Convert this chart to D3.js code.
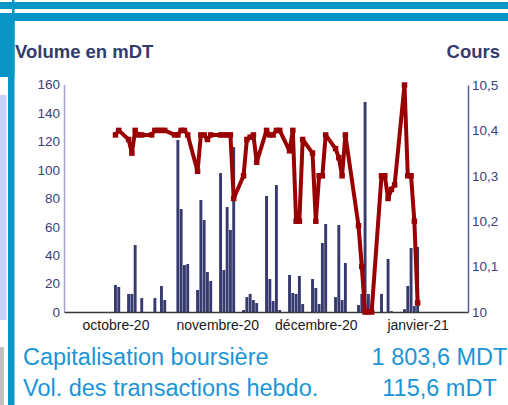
<!DOCTYPE html>
<html>
<head>
<meta charset="utf-8">
<script src="https://cdn.jsdelivr.net/npm/d3@7"></script>
<style>
body { margin: 0; background: #fff; }
svg { display: block; font-family: "Liberation Sans", Arial, sans-serif; }
</style>
</head>
<body>
<svg id="chart" width="508" height="405"></svg>
<script>

// trading days
var dates = ['2020-10-15','2020-10-16','2020-10-19','2020-10-20','2020-10-21','2020-10-22','2020-10-23',
  '2020-10-26','2020-10-27','2020-10-28','2020-10-29','2020-10-30',
  '2020-11-02','2020-11-03','2020-11-04','2020-11-05','2020-11-06',
  '2020-11-09','2020-11-10','2020-11-11','2020-11-12','2020-11-13',
  '2020-11-16','2020-11-17','2020-11-18','2020-11-19','2020-11-20',
  '2020-11-23','2020-11-24','2020-11-25','2020-11-26','2020-11-27',
  '2020-11-30','2020-12-01','2020-12-02','2020-12-03','2020-12-04',
  '2020-12-07','2020-12-08','2020-12-09','2020-12-10','2020-12-11',
  '2020-12-14','2020-12-15','2020-12-16','2020-12-17','2020-12-18',
  '2020-12-21','2020-12-22','2020-12-23','2020-12-24',
  '2020-12-28','2020-12-29','2020-12-30','2020-12-31','2021-01-01',
  '2021-01-04','2021-01-05','2021-01-06','2021-01-07','2021-01-08',
  '2021-01-11','2021-01-12','2021-01-13','2021-01-14','2021-01-15'];

// volume en mDT
var volumes = [19.0, 17.6, 12.7, 12.7, 47.1, 0, 9.8,
  0, 9.8, 0, 18.3, 8.4,
  0, 121, 72.4, 33, 33.8,
  15.5, 78.8, 64.7, 28.1, 21.8,
  97.7, 29.5, 73.8, 57.7, 116,
  1.4, 10.5, 12.7, 8.4, 6.3,
  81.6, 23.2, 7.7, 89.3, 1.4,
  26, 13.4, 12.7, 25.3, 5.6,
  23.2, 16.9, 5.6, 48.5, 61.9,
  10.5, 61.2, 8.4, 34.5,
  4.9, 12.7, 147.7, 12.7, 0,
  12.7, 0, 37.3, 0.6, 0,
  2, 18.3, 45, 4.2, 45.7];

// cours
var cours = [10.39, 10.40, 10.38, 10.35, 10.40, 10.39, 10.39,
  10.39, 10.40, 10.40, 10.40, 10.40,
  10.39, 10.39, 10.40, 10.40, 10.39,
  10.31, 10.39, 10.39, 10.38, 10.39,
  10.39, 10.39, 10.39, 10.39, 10.25,
  10.30, 10.38, 10.385, 10.39, 10.33,
  10.40, 10.39, 10.39, 10.40, 10.40,
  10.355, 10.40, 10.20, 10.20, 10.38,
  10.35, 10.20, 10.30, 10.30, 10.39,
  10.36, 10.34, 10.30, 10.39,
  10.19, 10.10, 10.00, 10.00, 10.00,
  10.30, 10.30, 10.25, 10.27, 10.28,
  10.50, 10.30, 10.30, 10.20, 10.02];

var volTicks = [0, 20, 40, 60, 80, 100, 120, 140, 160];
var coursTicks = [10, 10.1, 10.2, 10.3, 10.4, 10.5];
var coursLabels = ['10', '10,1', '10,2', '10,3', '10,4', '10,5'];
var monthDates = ['2020-10-15', '2020-11-15', '2020-12-15', '2021-01-15'];
var monthLabels = ['octobre-20', 'novembre-20', 'décembre-20', 'janvier-21'];

var blue = '#0995c6', navy = '#363a6e', red = '#990000', textBlue = '#1b95d6';

var margin = { top: 84.5, right: 40, bottom: 93, left: 64 },
    width  = 508 - margin.left - margin.right,
    height = 405 - margin.top - margin.bottom;

var parse = d3.timeParse('%Y-%m-%d');

var data = dates.map(function(d, i) {
  return { date: parse(d), vol: volumes[i], cours: cours[i] };
});

var svg = d3.select('#chart');

// page decoration (blue bands, left edge)
svg.append('rect').attr('x', 0).attr('y', 95).attr('width', 6.5).attr('height', 225).attr('fill', '#c9d1f9');
svg.append('rect').attr('x', 0).attr('y', 347).attr('width', 4).attr('height', 58).attr('fill', '#c0c0c0');
svg.append('rect').attr('x', 12).attr('y', 0).attr('width', 2.5).attr('height', 14).attr('fill', blue);
svg.append('rect').attr('x', 0).attr('y', 2).attr('width', 508).attr('height', 7).attr('fill', blue);
svg.append('rect').attr('x', 0).attr('y', 13).attr('width', 508).attr('height', 8).attr('fill', blue);
svg.append('rect').attr('x', 0).attr('y', 13).attr('width', 14.5).attr('height', 64).attr('fill', blue);
svg.append('rect').attr('x', 8).attr('y', 13).attr('width', 6.5).attr('height', 392).attr('fill', blue);

var g = svg.append('g')
  .attr('transform', 'translate(' + margin.left + ',' + margin.top + ')');

// scales
var x = d3.scaleTime()
  .domain([new Date(2020, 8, 29, 8), new Date(2021, 0, 30, 8)])
  .range([0, width]);

var yVol = d3.scaleLinear().domain([0, 160]).range([height, 0]);
var yCours = d3.scaleLinear().domain([10, 10.5]).range([height, 0.5]);

// bars
var barW = 2.9;
g.selectAll('.bar')
  .data(data.filter(function(d) { return d.vol > 0; }))
  .enter()
  .append('rect')
  .attr('class', 'bar')
  .attr('x', function(d) { return x(d.date) - barW / 2; })
  .attr('y', function(d) { return yVol(d.vol); })
  .attr('width', barW)
  .attr('height', function(d) { return height - yVol(d.vol); })
  .attr('fill', navy);

// axes
var yAxisL = d3.axisLeft(yVol).tickValues(volTicks).tickSize(0).tickSizeOuter(0).tickPadding(4);
var yAxisR = d3.axisRight(yCours).tickValues(coursTicks).tickSize(0).tickSizeOuter(0).tickPadding(4)
  .tickFormat(function(d, i) { return coursLabels[i]; });
var xAxis = d3.axisBottom(x)
  .tickValues(monthDates.map(parse)).tickSize(0).tickSizeOuter(0).tickPadding(8)
  .tickFormat(function(d, i) { return monthLabels[i]; });

var gl = g.append('g').call(yAxisL);
gl.select('.domain').attr('stroke', '#a3a3d2').attr('stroke-width', 1.5);
gl.selectAll('text').attr('font-size', '13.5px').attr('fill', '#3c4178')
  .attr('font-family', '"Liberation Sans", Arial, sans-serif');

var gr = g.append('g').attr('transform', 'translate(' + width + ',0)').call(yAxisR);
gr.select('.domain').attr('stroke', '#5a5c98').attr('stroke-width', 1.5);
gr.selectAll('text').attr('font-size', '13.5px').attr('fill', '#3c4178')
  .attr('font-family', '"Liberation Sans", Arial, sans-serif');

var gx = g.append('g').attr('transform', 'translate(0,' + height + ')').call(xAxis);
gx.select('.domain').attr('stroke', '#3a3a3a').attr('stroke-width', 1.6);
gx.selectAll('text').attr('font-size', '14px').attr('fill', '#1a1a1a')
  .attr('font-family', '"Liberation Sans", Arial, sans-serif');

// cours line
var line = d3.line()
  .x(function(d) { return x(d.date); })
  .y(function(d) { return yCours(d.cours); });

g.append('path')
  .datum(data)
  .attr('d', line)
  .attr('fill', 'none')
  .attr('stroke', red)
  .attr('stroke-width', 4)
  .attr('stroke-linejoin', 'round');

var mk = 5.5;
g.selectAll('.mark')
  .data(data)
  .enter()
  .append('rect')
  .attr('class', 'mark')
  .attr('x', function(d) { return x(d.date) - mk / 2; })
  .attr('y', function(d) { return yCours(d.cours) - mk / 2; })
  .attr('width', mk)
  .attr('height', mk)
  .attr('fill', red);

// titles
svg.append('text').attr('x', 15).attr('y', 58).attr('font-size', '18.5px').attr('font-weight', 'bold')
  .attr('fill', '#343a6c').text('Volume en mDT');
svg.append('text').attr('x', 500).attr('y', 58).attr('font-size', '18.5px').attr('font-weight', 'bold')
  .attr('fill', '#343a6c').style('text-anchor', 'end').text('Cours');

// bottom info
svg.append('text').attr('x', 23).attr('y', 365).attr('font-size', '23.5px').attr('fill', textBlue)
  .text('Capitalisation boursière');
svg.append('text').attr('x', 439.5).attr('y', 365).attr('font-size', '23.5px').attr('fill', textBlue)
  .style('text-anchor', 'middle').text('1 803,6 MDT');
svg.append('text').attr('x', 23).attr('y', 396).attr('font-size', '23.5px').attr('fill', textBlue)
  .text('Vol. des transactions hebdo.');
svg.append('text').attr('x', 439.5).attr('y', 396).attr('font-size', '23.5px').attr('fill', textBlue)
  .style('text-anchor', 'middle').text('115,6 mDT');

</script>
</body>
</html>
